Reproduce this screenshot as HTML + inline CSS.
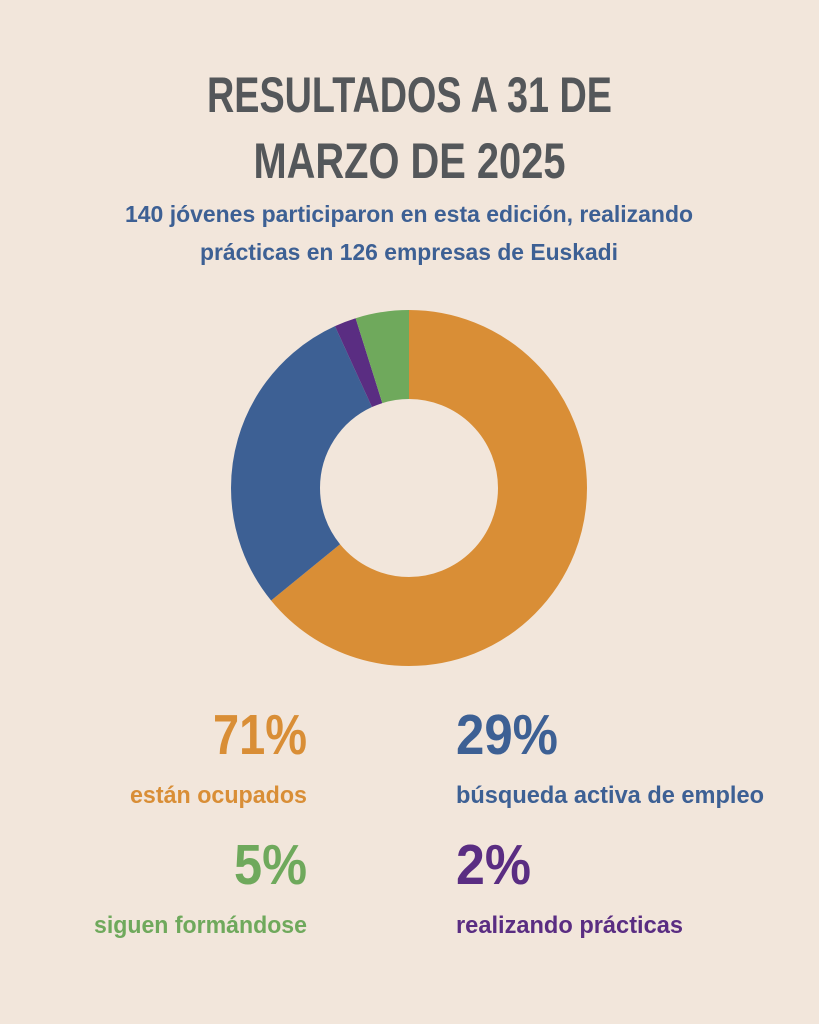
<!DOCTYPE html>
<html><head><meta charset="utf-8"><style>
html,body{margin:0;padding:0;background:#f2e6db;}
svg{display:block}
text{font-family:"Liberation Sans Narrow","Liberation Sans",sans-serif;font-weight:bold;}
</style></head><body>
<svg width="819" height="1024" viewBox="0 0 819 1024">
<rect width="819" height="1024" fill="#f2e6db"/>
<text x="409.5" y="112" font-size="50" fill="#54575a" text-anchor="middle" textLength="405" lengthAdjust="spacingAndGlyphs">RESULTADOS A 31 DE</text>
<text x="409.5" y="178" font-size="50" fill="#54575a" text-anchor="middle" textLength="312" lengthAdjust="spacingAndGlyphs">MARZO DE 2025</text>
<text x="409" y="222" font-size="23" fill="#3d6094" text-anchor="middle" textLength="568" lengthAdjust="spacingAndGlyphs">140 jóvenes participaron en esta edición, realizando</text>
<text x="409" y="260" font-size="23" fill="#3d6094" text-anchor="middle" textLength="418" lengthAdjust="spacingAndGlyphs">prácticas en 126 empresas de Euskadi</text>
<g transform="translate(409,488) rotate(-90)" fill="none" stroke-width="89">
<circle r="133.5" stroke="#d98e36" stroke-dasharray="537.5 1000" stroke-dashoffset="0"/>
<circle r="133.5" stroke="#3d6094" stroke-dasharray="243.7 1000" stroke-dashoffset="-537.5"/>
<circle r="133.5" stroke="#5a2d82" stroke-dasharray="16.6 1000" stroke-dashoffset="-781.2"/>
<circle r="133.5" stroke="#6fa95c" stroke-dasharray="41 1000" stroke-dashoffset="-797.8"/>
</g>
<text x="307" y="754" font-size="57" fill="#d98e36" text-anchor="end" textLength="94" lengthAdjust="spacingAndGlyphs">71%</text>
<text x="307" y="803" font-size="24" fill="#d98e36" text-anchor="end" textLength="177" lengthAdjust="spacingAndGlyphs">están ocupados</text>
<text x="456" y="754" font-size="57" fill="#3d6094" textLength="102" lengthAdjust="spacingAndGlyphs">29%</text>
<text x="456" y="803" font-size="24" fill="#3d6094" textLength="308" lengthAdjust="spacingAndGlyphs">búsqueda activa de empleo</text>
<text x="307" y="884" font-size="57" fill="#6fa95c" text-anchor="end" textLength="73" lengthAdjust="spacingAndGlyphs">5%</text>
<text x="307" y="933" font-size="24" fill="#6fa95c" text-anchor="end" textLength="213" lengthAdjust="spacingAndGlyphs">siguen formándose</text>
<text x="456" y="884" font-size="57" fill="#5a2d82" textLength="75" lengthAdjust="spacingAndGlyphs">2%</text>
<text x="456" y="933" font-size="24" fill="#5a2d82" textLength="227" lengthAdjust="spacingAndGlyphs">realizando prácticas</text>
</svg>
</body></html>
